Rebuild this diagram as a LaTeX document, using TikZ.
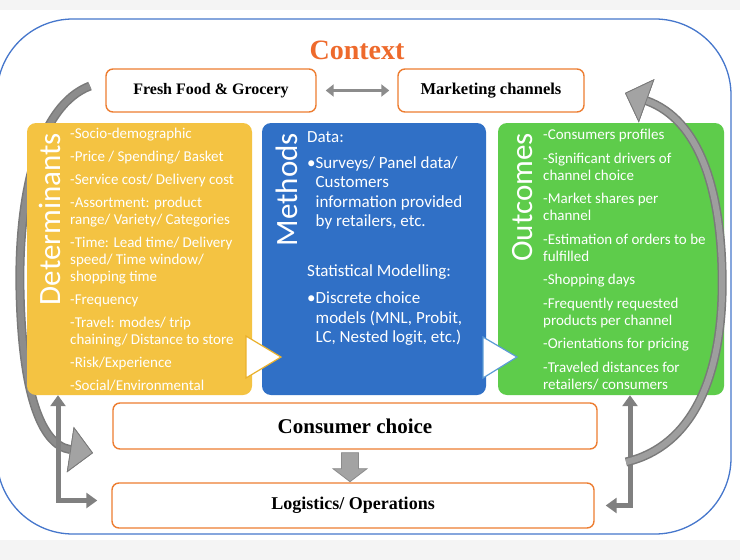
\documentclass[tikz,border=0pt]{standalone}
\usepackage{fontspec}
\setmainfont{Carlito}
\newfontfamily\serifff{Liberation Serif}
\usetikzlibrary{arrows.meta,calc}
\definecolor{bggray}{HTML}{F4F4F4}
\definecolor{outerblue}{HTML}{4677CC}
\definecolor{ctxorange}{HTML}{EE6A2C}
\definecolor{boxorange}{HTML}{ED7D31}
\definecolor{detyellow}{HTML}{F4C342}
\definecolor{metblue}{HTML}{3070C6}
\definecolor{outgreen}{HTML}{5ECC4B}
\definecolor{triyellow}{HTML}{EAB12C}
\definecolor{triblue}{HTML}{5B9BD5}
\definecolor{arrdark}{HTML}{7A7A7A}
\definecolor{arrmid}{HTML}{8C8C8C}
\definecolor{arrlight}{HTML}{A3A3A3}
\definecolor{arrinner}{HTML}{9E9E9E}
\definecolor{lgray}{HTML}{808080}
\begin{document}
\begin{tikzpicture}[x=1pt,y=-1pt,
  obox/.style={draw=boxorange, line width=1.4pt, rounded corners=7pt, fill=white, inner sep=0pt},
  cbox/.style={rounded corners=9pt, inner sep=0pt, minimum height=272pt},
  vtitle/.style={rotate=90, anchor=east, inner sep=0pt, text=white, font=\fontsize{31}{31}\selectfont},
  listtext/.style={anchor=north west, align=left, inner sep=0pt, text=white},
  bighead/.style={-{Triangle[length=23pt,width=46pt,line width=0.8pt,color=arrdark,fill=arrlight]}},
  larr/.style={draw=lgray, line width=5pt, {Triangle[length=11pt,width=15pt]}-{Triangle[length=11pt,width=15pt]}},
]
\useasboundingbox (0,0) rectangle (740,560);
\fill[bggray] (0,0) rectangle (740,560);
\fill[white] (0,10) rectangle (740,540);
\draw[outerblue, line width=1.3pt, rounded corners=76pt] (-3,19) rectangle (731,534);

% left curved arrow (behind boxes)
\coordinate (lt) at (90,86);
\coordinate (lh) at (93,453);
\draw[arrdark, line width=9pt, bighead] (lt) .. controls (40,105) and (18,190) .. (20,290) .. controls (22,390) and (40,445) .. (lh);
\draw[arrmid, line width=6pt, bighead] (lt) .. controls (40,105) and (18,190) .. (20,290) .. controls (22,390) and (40,445) .. (lh);

\node[text=ctxorange, font=\serifff\bfseries\fontsize{28}{28}\selectfont, inner sep=0pt] (ctx) at (357,50) {Context};

\node[obox, minimum width=210pt, minimum height=43pt, font=\serifff\bfseries\fontsize{16}{16}\selectfont] (ff) at (211,90.5) {Fresh Food \& Grocery};
\node[obox, minimum width=186pt, minimum height=43pt, font=\serifff\bfseries\fontsize{16.5}{16.5}\selectfont] (mc) at (491,90.5) {Marketing channels};
\draw[arrmid, line width=3.5pt, {Triangle[length=8pt,width=12pt]}-{Triangle[length=8pt,width=12pt]}, shorten <=9pt, shorten >=8pt] (ff.east) -- (mc.west);

\node[cbox, fill=detyellow, minimum width=225pt] (det) at (139.5,259) {};
\node[cbox, fill=metblue, minimum width=224pt] (met) at (374,259) {};
\node[cbox, fill=outgreen, minimum width=226pt] (out) at (611,259) {};

\node[vtitle] (detT) at (50,133) {Determinants};
\node[vtitle] (metT) at (287,133) {Methods};
\node[vtitle] (outT) at (523,133) {Outcomes};

\node[listtext, font=\fontsize{15}{17}\selectfont] (detL) at (70,128) {-Socio-demographic\\[6pt]
-Price / Spending/ Basket\\[6pt]
-Service cost/ Delivery cost\\[6pt]
-Assortment: product\\range/ Variety/ Categories\\[6pt]
-Time: Lead time/ Delivery\\speed/ Time window/\\shopping time\\[6pt]
-Frequency\\[6pt]
-Travel: modes/ trip\\chaining/ Distance to store\\[6pt]
-Risk/Experience\\[6pt]
-Social/Environmental};

\node[listtext, font=\fontsize{17}{19.5}\selectfont] (metL) at (307,131) {Data:\\[6.5pt]
•Surveys/ Panel data/\\
\hphantom{•}Customers\\
\hphantom{•}information provided\\
\hphantom{•}by retailers, etc.\\[30.5pt]
Statistical Modelling:\\[7.5pt]
•Discrete choice\\
\hphantom{•}models (MNL, Probit,\\
\hphantom{•}LC, Nested logit, etc.)};

\node[listtext, font=\fontsize{15}{17}\selectfont] (outL) at (543,129) {-Consumers profiles\\[6.5pt]
-Significant drivers of\\channel choice\\[6.5pt]
-Market shares per\\channel\\[6.5pt]
-Estimation of orders to be\\fulfilled\\[6.5pt]
-Shopping days\\[6.5pt]
-Frequently requested\\products per channel\\[6.5pt]
-Orientations for pricing\\[6.5pt]
-Traveled distances for\\retailers/ consumers};

\filldraw[fill=white, draw=triyellow, line width=1.2pt] (246,336) -- (281,357) -- (246,378) -- cycle;
\filldraw[fill=white, draw=triblue, line width=1.2pt] (483,337) -- (517,357) -- (483,378) -- cycle;

\node[obox, minimum width=484pt, minimum height=46pt, font=\serifff\bfseries\fontsize{21}{21}\selectfont] (cc) at (355,426) {Consumer choice};
\node[obox, minimum width=482pt, minimum height=45pt, font=\serifff\bfseries\fontsize{18}{18}\selectfont] (lo) at (353,505.5) {Logistics/ Operations};

\coordinate (da) at ($(cc.south)+(-5,0)$);
\filldraw[fill=arrlight, draw=arrmid, line width=0.8pt] ($(da)+(-8.5,3)$) -- ($(da)+(8.5,3)$) -- ($(da)+(8.5,19)$) -- ($(da)+(17,19)$) -- ($(da)+(0,32)$) -- ($(da)+(-17,19)$) -- ($(da)+(-8.5,19)$) -- cycle;

\coordinate (lx) at (58,0);
\coordinate (rx) at (630,0);
\draw[larr, shorten >=14pt] (det.south -| lx) |- ([yshift=5pt]lo.west);
\draw[larr, shorten >=11pt] (out.south -| rx) |- (lo.east);

% right curved arrow (over the green box)
\coordinate (rt) at (626,462);
\coordinate (rh) at (625,93);
\draw[arrdark, line width=9pt, bighead] (rt) .. controls (690,447) and (725,380) .. (722,270) .. controls (720,190) and (700,120) .. (rh);
\draw[arrinner, line width=6pt, bighead] (rt) .. controls (690,447) and (725,380) .. (722,270) .. controls (720,190) and (700,120) .. (rh);
\end{tikzpicture}
\end{document}
